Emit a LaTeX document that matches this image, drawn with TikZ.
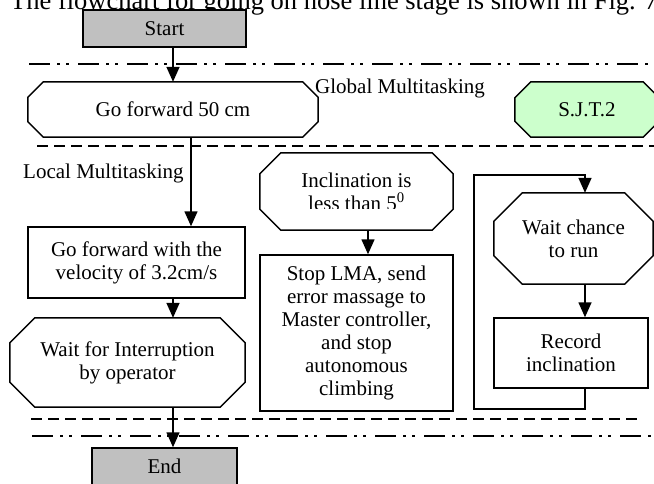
\documentclass[tikz,border=0pt]{standalone}
\usepackage{fontspec}
\setmainfont{Liberation Serif}
\usetikzlibrary{arrows.meta,calc,backgrounds}
\definecolor{boxgray}{HTML}{C0C0C0}
\definecolor{sjtgreen}{HTML}{CCFFCC}
\newcommand\octbox[3][]{%
  \draw[boxline,#1] ($(#2.north west)+(#3,0)$) -- ($(#2.north east)+(-#3,0)$)
    -- ($(#2.north east)+(0,#3)$) -- ($(#2.south east)+(0,-#3)$)
    -- ($(#2.south east)+(-#3,0)$) -- ($(#2.south west)+(#3,0)$)
    -- ($(#2.south west)+(0,-#3)$) -- ($(#2.north west)+(0,#3)$) -- cycle;}
\begin{document}
\begin{tikzpicture}[x=1pt,y=-1pt,
  boxline/.style={line width=1.5pt, line join=miter},
  txt/.style={font=\fontsize{21}{23}\selectfont, align=center, inner sep=0pt},
  rectbox/.style={txt, draw, boxline},
  octnode/.style={txt},
  conn/.style={line width=1.6pt, -{Triangle[width=13pt,length=15pt]}},
  dashline/.style={line width=2.5pt, dash pattern=on 11pt off 6pt},
  dotline/.style={line width=2.5pt, dash pattern=on 21pt off 7pt on 3pt off 6pt on 3pt off 9pt}]
\useasboundingbox (0,0) rectangle (654,483);
\clip (0,0) rectangle (654,483);

\node[anchor=base west, inner sep=0pt, font=\fontsize{26.5}{30}\selectfont] (caption) at (10,9) {The flowchart for going on hose line stage is shown in Fig. 7};

\node[rectbox, fill=boxgray, minimum width=163pt, minimum height=37pt] (start) at (164.5,28.5) {Start};
\node[octnode, minimum width=290pt, minimum height=55pt] (go50) at (173,109.5) {Go forward 50 cm};
\node[txt, anchor=base west] (global) at (315,93) {Global Multitasking};
\node[octnode, minimum width=144pt, minimum height=55pt] (sjt) at (587,109.5) {S.J.T.2};
\node[txt, anchor=base west] (local) at (23,178) {Local Multitasking};
\node[rectbox, minimum width=217pt, minimum height=71pt] (vel) at (136.5,262.5) {Go forward with the\\velocity of 3.2cm/s};
\node[octnode, minimum width=235pt, minimum height=89pt] (waitop) at (127.5,362.5) {Wait for Interruption\\by operator};
\node[rectbox, fill=boxgray, minimum width=145pt, minimum height=37pt] (endbox) at (164.5,466.5) {End};
\begin{scope}
  \clip (240,140) rectangle (470,208.5);
  \node[octnode, minimum width=193pt, minimum height=77pt] (incl) at (356.5,191.5) {Inclination is\\less than 5\textsuperscript{0}};
\end{scope}
\node[rectbox, minimum width=193pt, minimum height=156pt] (stop) at (356.5,333) {Stop LMA, send\\error massage to\\Master controller,\\and stop\\autonomous\\climbing};
\node[octnode, minimum width=159pt, minimum height=91pt] (waitch) at (573.5,238.5) {Wait chance\\to run};
\node[rectbox, minimum width=154pt, minimum height=70pt] (record) at (571,353) {Record\\inclination};

\begin{scope}[on background layer]
  \octbox{go50}{15.5}
  \octbox[fill=sjtgreen]{sjt}{16}
  \octbox{incl}{21}
  \octbox{waitop}{25}
  \octbox{waitch}{28.5}
\end{scope}

\draw[dotline] (29,64) -- (654,64);
\draw[dashline] (37,146) -- (654,146);
\draw[dashline] (31,419) -- (638,419);
\draw[dotline] (32,436) -- (654,436);

\draw[conn] (start.south -| go50.north) -- (go50.north);
\draw[conn] ([xshift=18pt]go50.south) -- ([xshift=18pt]go50.south |- vel.north);
\draw[conn] ([xshift=36.5pt]vel.south) -- ([xshift=36.5pt]vel.south |- waitop.north);
\draw[conn] ([xshift=45.5pt]waitop.south) -- ([xshift=45.5pt]waitop.south |- endbox.north);
\draw[conn] ([xshift=11.5pt]incl.south) -- ([xshift=11.5pt]incl.south |- stop.north);
\draw[conn] ([xshift=11.5pt]waitch.south) -- ([xshift=11.5pt]waitch.south |- record.north);
\coordinate (loopbl) at (474,409);
\coordinate (looptl) at (474,175);
\draw[conn] ([xshift=14pt]record.south) |- (loopbl) -- (looptl) -| ([xshift=11.5pt]waitch.north);
\end{tikzpicture}
\end{document}
